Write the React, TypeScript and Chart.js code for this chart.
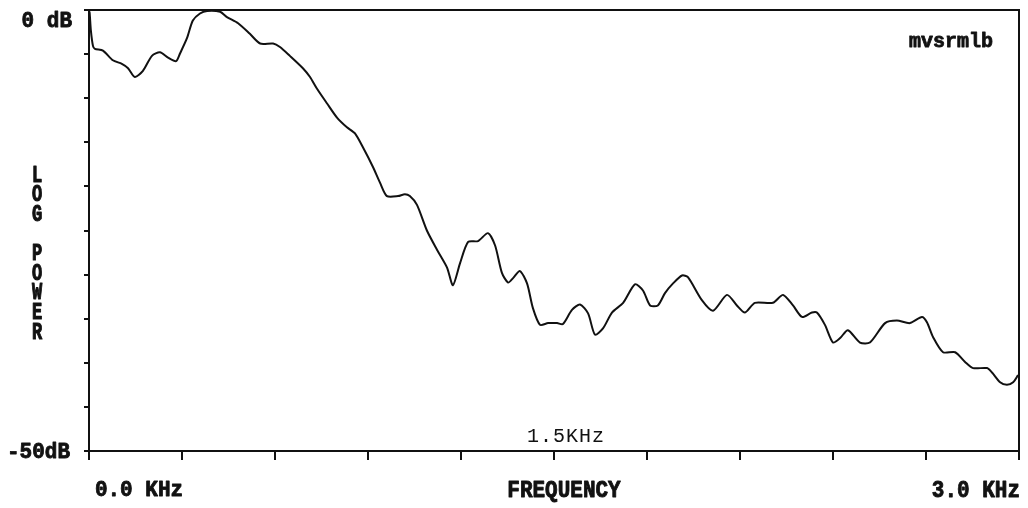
import React, { useEffect, useRef } from "react";
import { Chart, registerables } from "chart.js";

Chart.register(...registerables);

// Frequency (KHz) and log power (dB)
const freqKHz = [
  0.0, 0.002, 0.006, 0.013, 0.019, 0.045, 0.077, 0.106, 0.126, 0.148,
  0.174, 0.203, 0.229, 0.255, 0.281, 0.294, 0.316, 0.335, 0.358, 0.381,
  0.423, 0.445, 0.481, 0.519, 0.552, 0.594, 0.616, 0.648, 0.69, 0.713,
  0.735, 0.768, 0.8, 0.832, 0.858, 0.884, 0.916, 0.939, 0.961, 0.997,
  1.019, 1.035, 1.058, 1.09, 1.123, 1.155, 1.174, 1.197, 1.223, 1.255,
  1.287, 1.31, 1.332, 1.352, 1.368, 1.39, 1.413, 1.432, 1.455, 1.481,
  1.51, 1.529, 1.558, 1.584, 1.61, 1.632, 1.658, 1.687, 1.723, 1.761,
  1.787, 1.81, 1.835, 1.858, 1.884, 1.913, 1.932, 1.977, 2.013, 2.058,
  2.09, 2.116, 2.148, 2.206, 2.239, 2.271, 2.3, 2.332, 2.348, 2.374,
  2.4, 2.423, 2.448, 2.487, 2.519, 2.568, 2.606, 2.648, 2.687, 2.703,
  2.723, 2.755, 2.794, 2.826, 2.852, 2.897, 2.913, 2.939, 2.961, 2.981,
  2.997,
];
const powerDb = [
  -0.1, -0.3, -2.3, -4.1, -4.4, -4.6, -5.7, -6.1, -6.6, -7.6,
  -6.9, -5.2, -4.8, -5.4, -5.8, -4.9, -3.2, -1.2, -0.4, -0.1,
  -0.2, -0.8, -1.5, -2.7, -3.8, -3.8, -4.2, -5.2, -6.6, -7.6,
  -8.9, -10.6, -12.2, -13.3, -14.0, -15.6, -17.8, -19.6, -21.1, -21.1,
  -20.9, -21.1, -22.1, -25.0, -27.2, -29.2, -31.2, -28.7, -26.3, -26.2,
  -25.3, -26.7, -29.8, -30.9, -30.4, -29.6, -31.0, -33.8, -35.7, -35.5,
  -35.5, -35.6, -34.0, -33.4, -34.4, -36.8, -36.1, -34.3, -33.2, -31.1,
  -31.8, -33.5, -33.5, -32.1, -31.0, -30.1, -30.3, -32.9, -34.1, -32.3,
  -33.5, -34.3, -33.2, -33.2, -32.3, -33.5, -34.8, -34.3, -34.3, -35.7,
  -37.7, -37.2, -36.3, -37.7, -37.7, -35.5, -35.2, -35.5, -34.8, -35.4,
  -37.1, -38.8, -38.8, -39.9, -40.6, -40.6, -41.1, -42.2, -42.5, -42.2,
  -41.4,
];

const xTickValues = [0, 0.3, 0.6, 0.9, 1.2, 1.5, 1.8, 2.1, 2.4, 2.7, 3.0];
const yTickValues = [0, -5, -10, -15, -20, -25, -30, -35, -40, -45, -50];
const yTickLabels = ["0 dB", "-50dB"];
const xTickLabels = ["0.0 KHz", "FREQUENCY", "3.0 KHz"];
const yAxisTitle = "LOG POWER";
const markerLabel = "1.5KHz";
const cornerLabel = "mvsrmlb";

const INK = "#111111";
const MONO = "'Liberation Mono', 'DejaVu Sans Mono', monospace";

function heavyText(ctx: any, text: string, x: number, y: number, sy = 1) {
  ctx.save();
  ctx.translate(x, y);
  ctx.scale(1, sy);
  ctx.lineWidth = 0.8;
  ctx.strokeStyle = INK;
  ctx.lineJoin = "round";
  ctx.strokeText(text, 0, 0);
  ctx.fillText(text, 0, 0);
  ctx.restore();
}

const textPlugin = {
  id: "oldPlotText",
  afterDraw(chart: any) {
    const { ctx, chartArea, scales } = chart;
    const xs = scales.x;
    const ys = scales.y;
    ctx.save();
    // frame top + right
    ctx.strokeStyle = INK;
    ctx.lineWidth = 2;
    ctx.beginPath();
    ctx.moveTo(chartArea.left, chartArea.top);
    ctx.lineTo(chartArea.right, chartArea.top);
    ctx.lineTo(chartArea.right, chartArea.bottom);
    ctx.stroke();

    ctx.fillStyle = INK;
    ctx.textBaseline = "alphabetic";
    ctx.font = `bold 21px ${MONO}`;

    // y end labels
    ctx.textAlign = "right";
    heavyText(ctx, yTickLabels[0], chartArea.left - 17, ys.getPixelForValue(0) + 17, 1.05);
    heavyText(ctx, yTickLabels[1], chartArea.left - 19, ys.getPixelForValue(-50) + 7, 1.05);

    // x labels
    const base = chartArea.bottom + 45;
    ctx.textAlign = "center";
    heavyText(ctx, xTickLabels[0], xs.getPixelForValue(0) + 50, base, 1.08);
    heavyText(ctx, xTickLabels[1], xs.getPixelForValue(1.5) + 10, base + 1, 1.12);
    ctx.textAlign = "right";
    heavyText(ctx, xTickLabels[2], chartArea.right + 1, base + 1, 1.1);

    // corner label
    ctx.font = `bold 20px ${MONO}`;
    ctx.textAlign = "center";
    heavyText(ctx, cornerLabel, 951, 47);

    // marker label
    ctx.font = `20px ${MONO}`;
    (ctx as any).letterSpacing = "1px";
    ctx.textAlign = "center";
    ctx.fillText(markerLabel, xs.getPixelForValue(1.5) + 12, chartArea.bottom - 9);
    (ctx as any).letterSpacing = "0px";

    // vertical stacked axis title
    ctx.font = `bold 17px ${MONO}`;
    ctx.textAlign = "center";
    ctx.textBaseline = "middle";
    const chars = yAxisTitle.split("");
    chars.forEach((c, i) => {
      if (c === " ") return;
      heavyText(ctx, c, 37, 175.5 + i * 19.6, 1.45);
    });
    ctx.restore();
  },
};

export default function App() {
  const ref = useRef<HTMLCanvasElement | null>(null);

  useEffect(() => {
    if (!ref.current) return;
    const data = freqKHz.map((f, i) => ({ x: f, y: powerDb[i] }));
    const chart = new Chart(ref.current, {
      type: "line",
      data: {
        datasets: [
          {
            data,
            borderColor: INK,
            borderWidth: 2,
            pointRadius: 0,
            tension: 0.25,
            fill: false,
          },
        ],
      },
      options: {
        animation: false,
        responsive: false,
        events: [],
        layout: { padding: { left: 69, top: 10, right: 9, bottom: 37 } },
        plugins: {
          legend: { display: false },
          tooltip: { enabled: false },
          title: { display: false },
        },
        scales: {
          x: {
            type: "linear",
            min: 0,
            max: 3.0,
            afterBuildTicks: (scale: any) => {
              scale.ticks = xTickValues.map((v) => ({ value: v }));
            },
            afterFit: (scale: any) => {
              scale.height = 20;
            },
            ticks: { display: false },
            grid: {
              drawOnChartArea: false,
              drawTicks: true,
              tickLength: 9,
              color: INK,
              lineWidth: 2,
            },
            border: { display: true, color: INK, width: 2 },
          },
          y: {
            type: "linear",
            min: -50,
            max: 0,
            afterBuildTicks: (scale: any) => {
              scale.ticks = yTickValues.map((v) => ({ value: v }));
            },
            afterFit: (scale: any) => {
              scale.width = 20;
            },
            ticks: { display: false },
            grid: {
              drawOnChartArea: false,
              drawTicks: true,
              tickLength: 5,
              color: INK,
              lineWidth: 2,
            },
            border: { display: true, color: INK, width: 2 },
          },
        },
      },
      plugins: [textPlugin],
    });
    return () => chart.destroy();
  }, []);

  return (
    <div style={{ position: "absolute", left: 0, top: 0, width: 1028, height: 508, background: "#fff" }}>
      <canvas ref={ref} width={1028} height={508} />
    </div>
  );
}
